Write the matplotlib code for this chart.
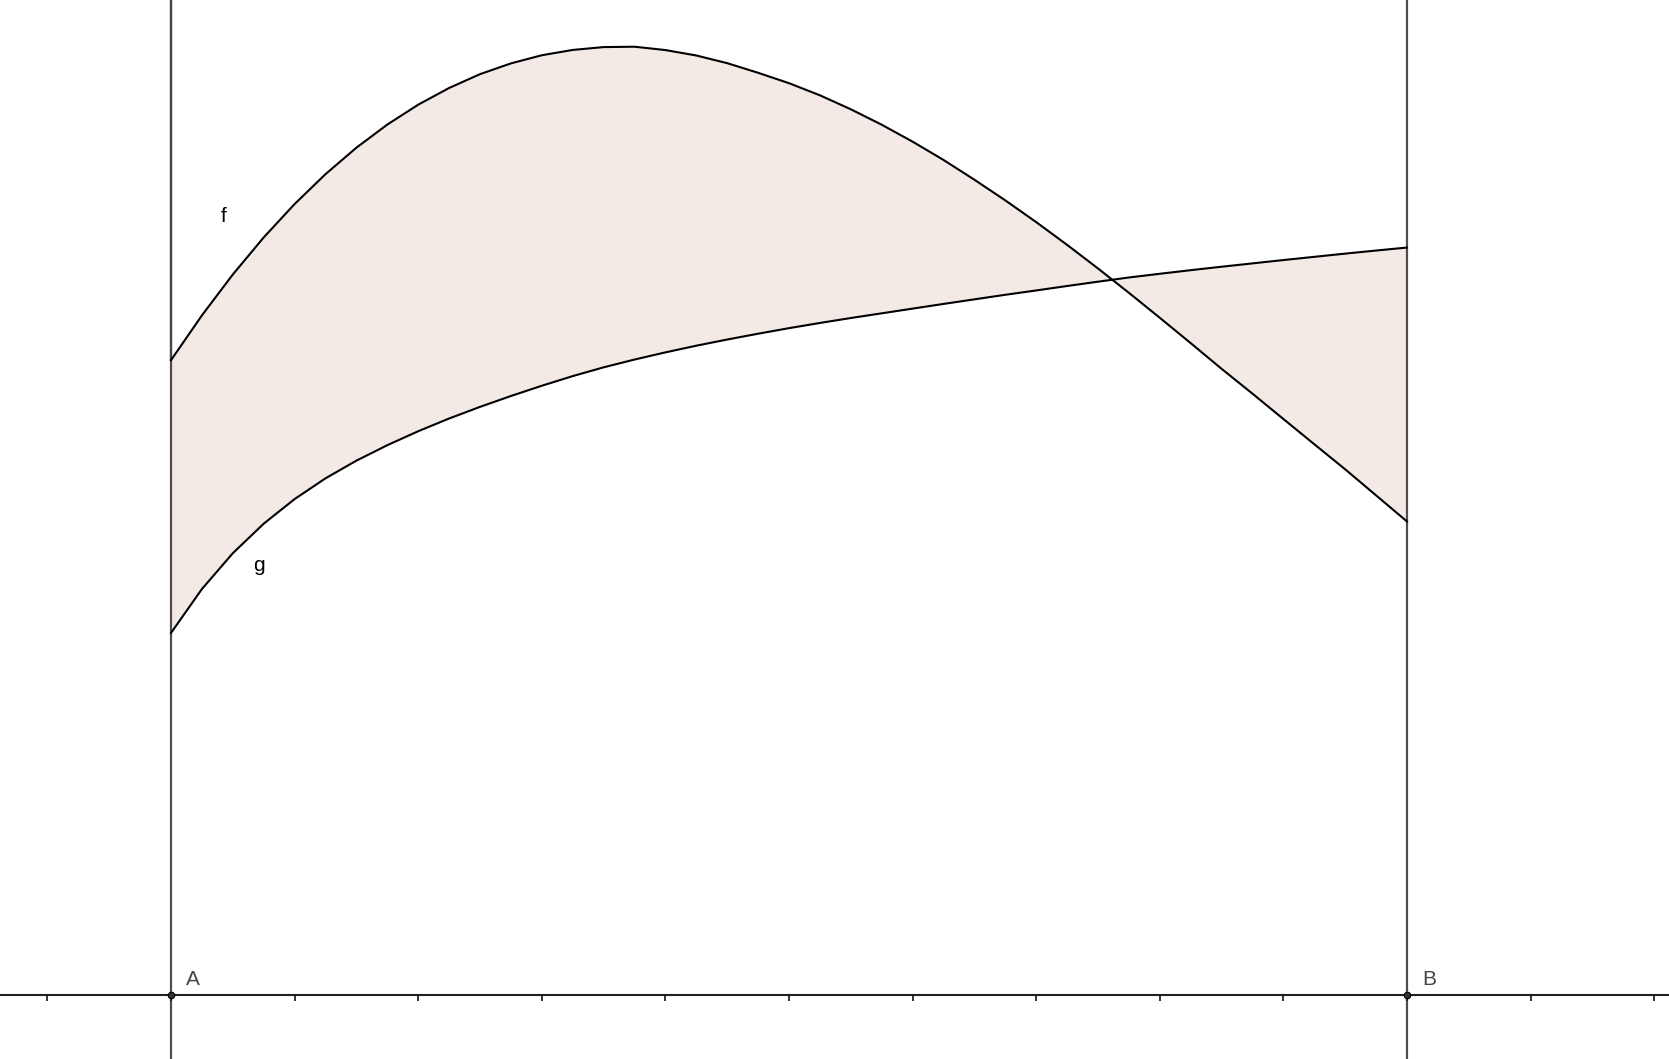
import matplotlib
matplotlib.use("Agg")
import matplotlib.pyplot as plt

# values on a 0.25 grid (A = 0, B = 10)
xs = [0, 0.25, 0.5, 0.75, 1.0, 1.25, 1.5, 1.75, 2.0, 2.25, 2.5, 2.75, 3.0,
      3.25, 3.5, 3.75, 4.0, 4.25, 4.5, 4.75, 5.0, 5.25, 5.5, 5.75, 6.0, 6.25,
      6.5, 6.75, 7.0, 7.25, 7.5, 7.75, 8.0, 8.25, 8.5, 8.75, 9.0, 9.25, 9.5,
      9.75, 10.0]
f_vals = [5.136, 5.498, 5.829, 6.129, 6.399, 6.641, 6.855, 7.042, 7.203, 7.338,
          7.450, 7.537, 7.603, 7.646, 7.669, 7.672, 7.645, 7.601, 7.539, 7.461,
          7.377, 7.279, 7.166, 7.041, 6.904, 6.756, 6.596, 6.429, 6.253, 6.069,
          5.878, 5.681, 5.479, 5.274, 5.066, 4.865, 4.660, 4.456, 4.253, 4.042,
          3.831]
g_vals = [2.929, 3.284, 3.574, 3.813, 4.012, 4.180, 4.323, 4.448, 4.561, 4.664,
          4.758, 4.846, 4.929, 5.007, 5.078, 5.141, 5.199, 5.253, 5.303, 5.350,
          5.395, 5.437, 5.477, 5.515, 5.553, 5.591, 5.628, 5.665, 5.700, 5.736,
          5.771, 5.805, 5.835, 5.864, 5.892, 5.919, 5.946, 5.972, 5.998, 6.023,
          6.047]
x_ticks = list(range(-1, 13))
bounds = [0, 10]
bound_names = ["A", "B"]

W, H = 1669, 1059
fig = plt.figure(figsize=(W / 100, H / 100), dpi=100)
ax = fig.add_axes([0, 0, 1, 1])
ax.set_xlim(-1.3835, 12.120)
ax.set_ylim(-0.518, 8.050)
ax.axis("off")

# shaded area between f and g
ax.fill_between(xs, f_vals, g_vals, color="#f3eae6", lw=0, zorder=1)

# vertical lines through A and B
for xb in bounds:
    ax.axvline(xb, color="#4f4d4d", lw=1.6, zorder=2)
# the piece of x = A above f looks a bit brownish
ax.plot([bounds[0], bounds[0]], [f_vals[0], 8.05], color="#4e4139", lw=1.6,
        zorder=2, solid_capstyle="butt")

ax.plot(xs, f_vals, color="black", lw=1.5, zorder=3, solid_joinstyle="round")
ax.plot(xs, g_vals, color="black", lw=1.5, zorder=3, solid_joinstyle="round")

# x axis, small ticks hanging below
ax.axhline(0, color="#222222", lw=1.5, zorder=2)
for t in x_ticks:
    ax.plot([t, t], [0, -0.05], color="#222222", lw=1.3, zorder=2,
            solid_capstyle="butt")

# points A and B
ax.scatter(bounds, [0, 0], s=22, facecolor="#333333", edgecolor="black",
           lw=0.8, zorder=5)
for xb, name in zip(bounds, bound_names):
    ax.text(xb + 0.12, 0.08, name, fontsize=15, color="#444444",
            family="Liberation Sans", zorder=6)

ax.text(0.405, 6.25, "f", fontsize=15, color="black", family="Liberation Sans")
ax.text(0.666, 3.434, "g", fontsize=15, color="black", family="Liberation Sans")

fig.savefig("out.png", dpi=100)
